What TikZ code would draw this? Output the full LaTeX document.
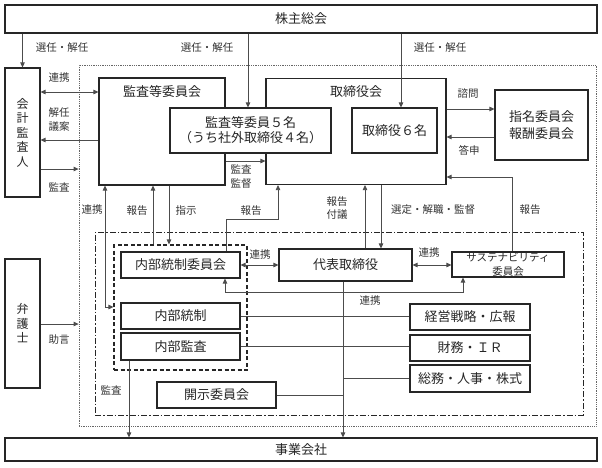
\documentclass[tikz,border=0pt]{standalone}
\usepackage{fontspec}
\setmainfont{Noto Sans CJK JP}
\usetikzlibrary{arrows.meta}

\tikzset{
  box/.style={draw=black!85, line width=1.1pt, fill=white, inner sep=0pt,
    align=center, text=black!85, font=\fontsize{13}{15}\selectfont},
  bx/.style 2 args={box, minimum width=#1pt, minimum height=#2pt},
  lbl/.style={inner sep=0pt, align=center, text=black!80,
    font=\fontsize{10.5}{13.5}\selectfont},
  conn/.style={draw=black!70, line width=0.8pt},
  arr/.style={conn, -{Triangle[length=5pt,width=4.5pt]}},
  darr/.style={conn, {Triangle[length=5pt,width=4.5pt]}-{Triangle[length=5pt,width=4.5pt]}},
}

\begin{document}
\begin{tikzpicture}[x=1pt,y=-1pt]
  \useasboundingbox (0,0) rectangle (602,467);

  % frames
  \node[draw=black!60, densely dotted, line width=0.8pt, minimum width=517pt, minimum height=361pt] (outer) at (337.5,245.5) {};
  \node[draw=black!85, line width=0.9pt, dash pattern=on 6pt off 2pt on 1.5pt off 2pt, minimum width=488pt, minimum height=183pt] (grp) at (339,323.5) {};
  \node[draw=black!85, line width=1.1pt, dash pattern=on 4pt off 2.5pt, minimum width=133pt, minimum height=125pt] (naibu) at (180.5,307.5) {};

  % top / bottom
  \node[bx={592}{28}] (kabu) at (301,19) {株主総会};
  \node[bx={592}{23}] (jigyo) at (301,449.5) {事業会社};

  % outside
  \node[bx={35}{129}, font=\fontsize{12}{14.5}\selectfont] (kaikei) at (22.5,132.5) {会\\計\\監\\査\\人};
  \node[bx={35}{129}, font=\fontsize{12}{14.5}\selectfont] (bengo) at (22.5,323.5) {弁\\護\\士};

  % boards
  \node[bx={126}{107}] (kansakai) at (162,131.5) {};
  \node[box, draw=none, fill=none] (kansakaiT) at ([yshift=-14pt]kansakai.north) {監査等委員会};
  \node[bx={180}{106}] (torikai) at (356,131.5) {};
  \node[box, draw=none, fill=none] (torikaiT) at ([yshift=-14pt]torikai.north) {取締役会};
  \node[bx={161}{45}] (kansa5) at (250.5,130.5) {監査等委員５名\\（うち社外取締役４名）};
  \node[bx={85}{45}] (tori6) at (394.5,130.5) {取締役６名};
  \node[bx={93}{70}, font=\fontsize{13}{17}\selectfont] (shimei) at (541.5,125) {指名委員会\\報酬委員会};

  % inner
  \node[bx={119}{26}] (naibukai) at (180.5,265) {内部統制委員会};
  \node[bx={119}{26}] (naibutosei) at (180.5,316) {内部統制};
  \node[bx={119}{27}] (naibukansa) at (180.5,346.5) {内部監査};
  \node[bx={119}{26}] (kaiji) at (216.5,395) {開示委員会};
  \node[bx={133}{32}] (daihyo) at (345.5,265) {代表取締役};
  \node[bx={112}{25}, font=\fontsize{10.5}{14}\selectfont] (susta) at (508,264.5) {サステナビリティ\\委員会};
  \node[bx={120}{26}] (keiei) at (470,317) {経営戦略・広報};
  \node[bx={120}{26}] (zaimu) at (470,348) {財務・ＩＲ};
  \node[bx={120}{27}] (somu) at (470,378.5) {総務・人事・株式};

  % shareholders
  \coordinate (xKansa5) at (248,0);
  \coordinate (xTori6) at (401,0);
  \draw[arr] (kabu.south -| kaikei.north) -- (kaikei.north);
  \draw[arr] (kabu.south -| xKansa5) -- (kansa5.north -| xKansa5);
  \draw[arr] (kabu.south -| xTori6) -- (tori6.north -| xTori6);
  \node[lbl] (senA) at (62,48) {選任・解任};
  \node[lbl] (senB) at (207,48) {選任・解任};
  \node[lbl] (senC) at (440,48) {選任・解任};

  % auditor / lawyer
  \coordinate (yRenkeiA) at (0,92);
  \coordinate (yKainin) at (0,140);
  \coordinate (yKansaA) at (0,169);
  \coordinate (yJogen) at (0,324);
  \draw[darr] (kaikei.east |- yRenkeiA) -- (kansakai.west |- yRenkeiA);
  \draw[arr] (kansakai.west |- yKainin) -- (kaikei.east |- yKainin);
  \draw[arr] (kaikei.east |- yKansaA) -- (outer.west |- yKansaA);
  \draw[arr] (bengo.east |- yJogen) -- (outer.west |- yJogen);
  \node[lbl] (renkeiA) at (59,78) {連携};
  \node[lbl] (kainin) at (59,119.5) {解任\\議案};
  \node[lbl] (kansaA) at (59,187) {監査};
  \node[lbl] (jogen) at (59,340) {助言};

  % boards
  \coordinate (yKantoku) at (0,161);
  \coordinate (yShimon) at (0,109);
  \coordinate (yToshin) at (0,137);
  \draw[arr] (kansakai.east |- yKantoku) -- (torikai.west |- yKantoku);
  \draw[arr] (torikai.east |- yShimon) -- (shimei.west |- yShimon);
  \draw[arr] (shimei.west |- yToshin) -- (torikai.east |- yToshin);
  \node[lbl] (kantoku) at (241,176.5) {監査\\監督};
  \node[lbl] (shimon) at (468,94) {諮問};
  \node[lbl] (toshin) at (469,150) {答申};

  \coordinate (cHoukokuS) at (512,177);
  \draw[arr] (susta.north -| cHoukokuS) -- (cHoukokuS) -- (torikai.east |- cHoukokuS);
  \node[lbl] (houkokuS) at (530,210) {報告};

  \coordinate (xFugi) at (365,0);
  \coordinate (xSentei) at (381,0);
  \draw[arr] (daihyo.north -| xFugi) -- (torikai.south -| xFugi);
  \draw[arr] (torikai.south -| xSentei) -- (daihyo.north -| xSentei);
  \node[lbl] (fugi) at (337,208) {報告\\付議};
  \node[lbl] (sentei) at (433,210) {選定・解職・監督};

  % internal control
  \coordinate (cRenkeiB) at (105,307);
  \coordinate (xHoukokuA) at (153,0);
  \coordinate (xShiji) at (169,0);
  \draw[darr] (kansakai.south -| cRenkeiB) -- (cRenkeiB) -- (naibu.west |- cRenkeiB);
  \draw[arr] (naibu.north -| xHoukokuA) -- (kansakai.south -| xHoukokuA);
  \draw[arr] (kansakai.south -| xShiji) -- (naibu.north -| xShiji);
  \node[lbl] (renkeiB) at (92,210) {連携};
  \node[lbl] (houkokuA) at (137,211) {報告};
  \node[lbl] (shiji) at (186,211) {指示};

  \coordinate (cHoukokuB) at (226,219);
  \coordinate (cHoukokuC) at (278,219);
  \draw[arr] (naibukai.north -| cHoukokuB) -- (cHoukokuB) -- (cHoukokuC) -- (torikai.south -| cHoukokuC);
  \node[lbl] (houkokuB) at (251,211) {報告};

  \draw[darr] (naibukai.east) -- (daihyo.west);
  \draw[darr] (daihyo.east) -- (susta.west |- daihyo.east);
  \node[lbl] (renkeiC) at (260,255) {連携};
  \node[lbl] (renkeiD) at (429,253) {連携};

  \coordinate (cRenkeiE) at (225,292);
  \coordinate (cRenkeiF) at (463,292);
  \draw[darr] (naibukai.south -| cRenkeiE) -- (cRenkeiE) -- (cRenkeiF) -- (susta.south -| cRenkeiF);
  \node[lbl] (renkeiE) at (370,301) {連携};

  % trunk
  \coordinate (xTrunk) at (343,0);
  \draw[arr] (daihyo.south -| xTrunk) -- (jigyo.north -| xTrunk);
  \draw[conn] (naibutosei.east) -- (keiei.west |- naibutosei.east);
  \draw[conn] (naibukansa.east) -- (zaimu.west |- naibukansa.east);
  \draw[conn] (somu.west) -- (somu.west -| xTrunk);
  \draw[conn] (kaiji.east) -- (kaiji.east -| xTrunk);

  \coordinate (xKansaB) at (129,0);
  \draw[arr] (naibukansa.south -| xKansaB) -- (jigyo.north -| xKansaB);
  \node[lbl] (kansaB) at (111,390) {監査};

\end{tikzpicture}
\end{document}
